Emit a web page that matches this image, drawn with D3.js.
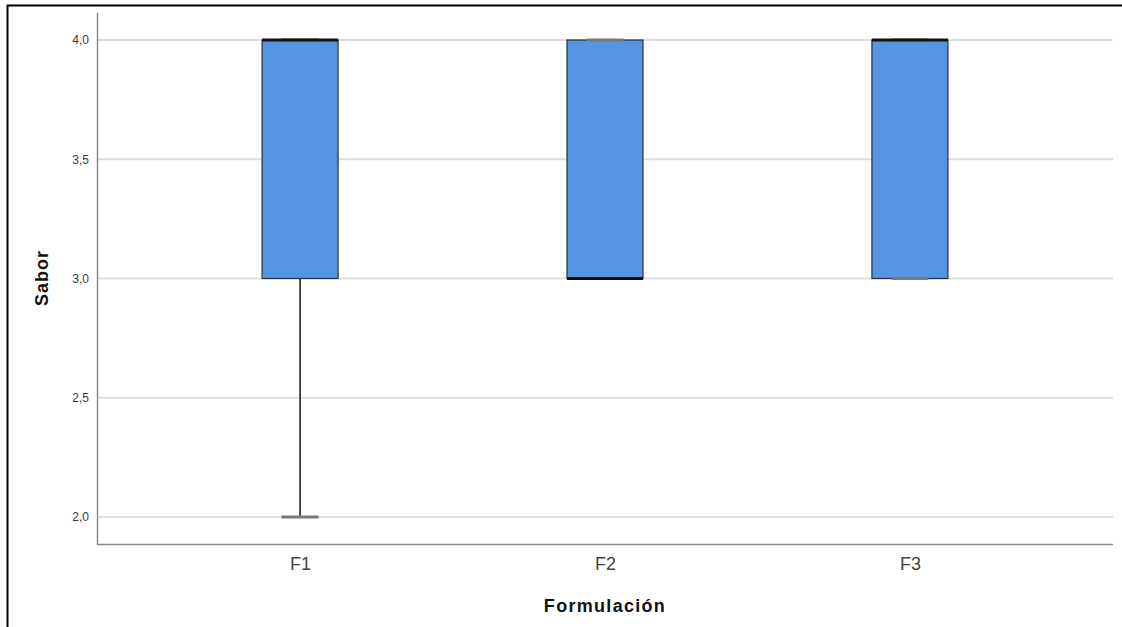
<!DOCTYPE html>
<html>
<head>
<meta charset="utf-8">
<script src="https://cdn.jsdelivr.net/npm/d3@7"></script>
<style>
  body { margin: 0; background: #fff; }
  svg { display: block; font-family: "Liberation Sans", Arial, sans-serif; }
</style>
</head>
<body>
<div class="chart"></div>
<script>
// data
var formulas = ["F1", "F2", "F3"];
var minVals = [2, 3, 3];
var q1Vals = [3, 3, 3];
var medianVals = [4, 3, 4];
var q3Vals = [4, 4, 4];
var maxVals = [4, 4, 4];
var yTicks = [2.0, 2.5, 3.0, 3.5, 4.0];

var svgWidth = 1122;
var svgHeight = 627;

var margin = { top: 13, right: 9, bottom: 83, left: 97 };
var width = svgWidth - margin.left - margin.right;
var height = svgHeight - margin.top - margin.bottom;

var svg = d3.select(".chart")
  .append("svg")
  .attr("width", svgWidth)
  .attr("height", svgHeight);

// frame (only left and top edges show in the picture)
svg.append("path")
  .attr("d", "M7.5,627 V5.5 H1122")
  .attr("fill", "none")
  .attr("stroke", "#000")
  .attr("stroke-width", 2);

var chartGroup = svg.append("g")
  .attr("transform", `translate(${margin.left}, ${margin.top})`);

var xScale = d3.scalePoint()
  .domain(formulas)
  .range([0, width])
  .padding(0.666);

var yScale = d3.scaleLinear()
  .domain([2, 4])
  .range([517 - margin.top, 40 - margin.top]);

var boxW = 76;
var capW = 37;

// gridlines
chartGroup.selectAll(".grid")
  .data(yTicks)
  .enter()
  .append("line")
  .attr("x1", 0)
  .attr("x2", width)
  .attr("y1", d => yScale(d))
  .attr("y2", d => yScale(d))
  .attr("stroke", "#dedede")
  .attr("stroke-width", 2);

// axes
var leftAxis = d3.axisLeft(yScale)
  .tickValues(yTicks)
  .tickSize(0)
  .tickPadding(8)
  .tickFormat(d => d3.format(".1f")(d).replace(".", ","));

var yAxis = chartGroup.append("g").call(leftAxis);
yAxis.select(".domain").remove();
yAxis.selectAll("text")
  .attr("font-size", "12px")
  .attr("fill", "#3a3a3a")
  .attr("font-family", "Liberation Sans, Arial, sans-serif");

var bottomAxis = d3.axisBottom(xScale).tickSize(0).tickPadding(13);
var xAxis = chartGroup.append("g")
  .attr("transform", `translate(0, ${height})`)
  .call(bottomAxis);
xAxis.select(".domain").remove();
xAxis.selectAll("text")
  .attr("font-size", "18px")
  .attr("fill", "#444")
  .attr("font-family", "Liberation Sans, Arial, sans-serif");

chartGroup.append("path")
  .attr("d", `M0.5,0 V${height + 0.5} H${width}`)
  .attr("fill", "none")
  .attr("stroke", "#8c8c8c")
  .attr("stroke-width", 1.5);

// boxes
var rows = formulas.map((f, i) => ({
  f: f, min: minVals[i], q1: q1Vals[i], med: medianVals[i], q3: q3Vals[i], max: maxVals[i]
}));

var boxGroup = chartGroup.selectAll(".box")
  .data(rows)
  .enter()
  .append("g");

// whiskers
boxGroup.append("line")
  .attr("x1", d => xScale(d.f))
  .attr("x2", d => xScale(d.f))
  .attr("y1", d => yScale(d.q1))
  .attr("y2", d => yScale(d.min))
  .attr("stroke", "#111")
  .attr("stroke-width", 1.5);

boxGroup.append("line")
  .attr("x1", d => xScale(d.f))
  .attr("x2", d => xScale(d.f))
  .attr("y1", d => yScale(d.q3))
  .attr("y2", d => yScale(d.max))
  .attr("stroke", "#111")
  .attr("stroke-width", 1.5);

boxGroup.append("rect")
  .attr("x", d => xScale(d.f) - boxW / 2)
  .attr("width", boxW)
  .attr("y", d => yScale(d.q3))
  .attr("height", d => yScale(d.q1) - yScale(d.q3))
  .attr("fill", "#5494e2")
  .attr("stroke", "#2b2f36")
  .attr("stroke-width", 1.2);

// whisker caps
["min", "max"].forEach(k => {
  boxGroup.append("line")
    .attr("x1", d => xScale(d.f) - capW / 2)
    .attr("x2", d => xScale(d.f) + capW / 2)
    .attr("y1", d => yScale(d[k]))
    .attr("y2", d => yScale(d[k]))
    .attr("stroke", "#7a7a7a")
    .attr("stroke-width", 3);
});

// medians
boxGroup.append("line")
  .attr("x1", d => xScale(d.f) - boxW / 2)
  .attr("x2", d => xScale(d.f) + boxW / 2)
  .attr("y1", d => yScale(d.med))
  .attr("y2", d => yScale(d.med))
  .attr("stroke", "#111")
  .attr("stroke-width", 3);

// axis titles
svg.append("text")
  .attr("transform", "translate(48, 278) rotate(-90)")
  .attr("text-anchor", "middle")
  .attr("font-size", "18px")
  .attr("font-weight", "bold")
  .attr("letter-spacing", "1px")
  .attr("fill", "#111")
  .text("Sabor");

svg.append("text")
  .attr("x", 605)
  .attr("y", 612)
  .attr("text-anchor", "middle")
  .attr("font-size", "18px")
  .attr("font-weight", "bold")
  .attr("letter-spacing", "1.3px")
  .attr("fill", "#111")
  .text("Formulación");
</script>
</body>
</html>
